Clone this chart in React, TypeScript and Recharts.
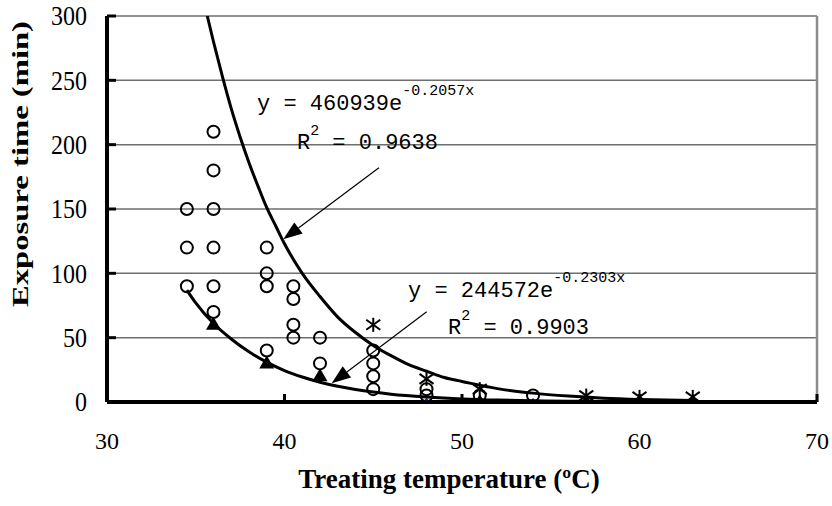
import React from 'react';
import { ScatterChart, Scatter, XAxis, YAxis, CartesianGrid, ReferenceLine, ReferenceDot } from 'recharts';

const xTicks = [30, 40, 50, 60, 70];
const yTicks = [0, 50, 100, 150, 200, 250, 300];

const openCircles = [
  { x: 34.5, y: 150 }, { x: 34.5, y: 120 }, { x: 34.5, y: 90 },
  { x: 36, y: 210 }, { x: 36, y: 180 }, { x: 36, y: 150 }, { x: 36, y: 120 }, { x: 36, y: 90 }, { x: 36, y: 70 },
  { x: 39, y: 120 }, { x: 39, y: 100 }, { x: 39, y: 90 }, { x: 39, y: 40 },
  { x: 40.5, y: 90 }, { x: 40.5, y: 80 }, { x: 40.5, y: 60 }, { x: 40.5, y: 50 },
  { x: 42, y: 50 }, { x: 42, y: 30 },
  { x: 45, y: 40 }, { x: 45, y: 30 }, { x: 45, y: 20 }, { x: 45, y: 10 },
  { x: 48, y: 10 }, { x: 48, y: 5 },
  { x: 51, y: 5 }, { x: 54, y: 5 },
];

const triangles = [
  { x: 36, y: 60 }, { x: 39, y: 30 }, { x: 42, y: 20 },
  { x: 51, y: 0 }, { x: 57, y: 0 }, { x: 60, y: 0 }, { x: 63, y: 0 },
];

const stars = [
  { x: 45, y: 60 }, { x: 48, y: 18 }, { x: 51, y: 10 },
  { x: 57, y: 5 }, { x: 60, y: 4 }, { x: 63, y: 4 },
];

const blueMarks = [{ x: 48, y: 0 }, { x: 54, y: 0 }];

const upperTrend = [
  { x: 35.65, y: 300 }, { x: 36, y: 280 }, { x: 36.5, y: 253 }, { x: 37, y: 228 },
  { x: 37.5, y: 206 }, { x: 38, y: 186 }, { x: 38.5, y: 168 }, { x: 39, y: 151 },
  { x: 39.5, y: 137 }, { x: 40, y: 123 }, { x: 41, y: 100 }, { x: 42, y: 82 },
  { x: 43, y: 66 }, { x: 44, y: 54 }, { x: 45, y: 44 }, { x: 46, y: 36 },
  { x: 47, y: 29 }, { x: 48, y: 24 }, { x: 49, y: 19 }, { x: 50, y: 16 },
  { x: 52, y: 10.4 }, { x: 54, y: 6.9 }, { x: 56, y: 4.6 }, { x: 58, y: 3 },
  { x: 60, y: 2 }, { x: 63, y: 1.1 },
];

const lowerTrend = [
  { x: 34.5, y: 87 }, { x: 35, y: 77 }, { x: 36, y: 61 }, { x: 37, y: 49 },
  { x: 38, y: 39 }, { x: 39, y: 31 }, { x: 40, y: 24.4 }, { x: 41, y: 19.4 },
  { x: 42, y: 15.4 }, { x: 43, y: 12.2 }, { x: 44, y: 9.7 }, { x: 45, y: 7.7 },
  { x: 46, y: 6.1 }, { x: 48, y: 3.9 }, { x: 50, y: 2.4 }, { x: 52, y: 1.5 },
  { x: 54, y: 1 }, { x: 56, y: 0.6 }, { x: 58, y: 0.4 }, { x: 60, y: 0.25 },
  { x: 63, y: 0.12 },
];

const eqUpper = { x: 38.45, y: 227, base: 'y = 460939e', exp: '-0.2057x' };
const r2Upper = { x: 40.7, y: 196.6, value: ' = 0.9638' };
const eqLower = { x: 46.96, y: 81.6, base: 'y = 244572e', exp: '-0.2303x' };
const r2Lower = { x: 49.21, y: 52.8, value: ' = 0.9903' };

const arrowUpper = [{ x: 45.32, y: 182 }, { x: 39.93, y: 126.4 }];
const arrowLower = [{ x: 48.01, y: 70.2 }, { x: 42.66, y: 14.5 }];

const SERIF = '"Liberation Serif", "Times New Roman", serif';
const MONO = '"Liberation Mono", "Courier New", monospace';

const XTick = (p: any) => {
  const { x, y, payload } = p;
  return (
    <g>
      <line x1={x} x2={x} y1={y} y2={y - 8} stroke="#000" strokeWidth={3} />
      <text x={x} y={y + 47} textAnchor="middle" fontFamily={SERIF} fontSize={24} fill="#000">
        {payload.value}
      </text>
    </g>
  );
};

const YTick = (p: any) => {
  const { x, y, payload } = p;
  return (
    <g>
      <line x1={x} x2={x + 9} y1={y} y2={y} stroke="#000" strokeWidth={3} />
      <text
        x={x - 20}
        y={y + 8}
        transform={`translate(0 ${y}) scale(1 1.17) translate(0 ${-y})`}
        textAnchor="end"
        fontFamily={SERIF}
        fontSize={24}
        fill="#000"
      >
        {payload.value}
      </text>
    </g>
  );
};

const XLabel = (p: any) => {
  const vb = p.viewBox;
  return (
    <text x={vb.x + 342} y={vb.y + 86} textAnchor="middle" fontFamily={SERIF} fontWeight="bold" fontSize={27} fill="#000">
      Treating temperature (ºC)
    </text>
  );
};

const YLabel = (p: any) => {
  const vb = p.viewBox;
  const x = vb.x + 28;
  const y = vb.y + 291;
  return (
    <text
      x={x}
      y={y}
      transform={`rotate(-90 ${x} ${y})`}
      textAnchor="start"
      fontFamily={SERIF}
      fontWeight="bold"
      fontSize={23}
      textLength={286}
      lengthAdjust="spacingAndGlyphs"
      fill="#000"
    >
      Exposure time (min)
    </text>
  );
};

const CircleShape = (p: any) => (
  <circle cx={p.cx} cy={p.cy} r={6} fill="none" stroke="#000" strokeWidth={2} />
);

const TriangleShape = (p: any) => {
  const { cx, cy } = p;
  return <polygon points={`${cx},${cy - 8} ${cx - 7.5},${cy + 5} ${cx + 7.5},${cy + 5}`} fill="#000" />;
};

const StarShape = (p: any) => {
  const { cx, cy } = p;
  return (
    <g stroke="#000" strokeWidth={2}>
      <line x1={cx} y1={cy - 7} x2={cx} y2={cy + 7} />
      <line x1={cx - 7} y1={cy - 5} x2={cx + 7} y2={cy + 5} />
      <line x1={cx - 7} y1={cy + 5} x2={cx + 7} y2={cy - 5} />
    </g>
  );
};

const BlueShape = (p: any) => (
  <polygon points={`${p.cx},${p.cy - 4} ${p.cx + 4},${p.cy} ${p.cx},${p.cy + 4} ${p.cx - 4},${p.cy}`} fill="#1a1aa8" />
);

const NoShape = () => <g />;

const Arrow = (p: any) => {
  const { x1, y1, x2, y2 } = p;
  const dx = x2 - x1;
  const dy = y2 - y1;
  const L = Math.hypot(dx, dy) || 1;
  const ux = dx / L;
  const uy = dy / L;
  const hl = 19;
  const hw = 7;
  const bx = x2 - ux * hl;
  const by = y2 - uy * hl;
  return (
    <g>
      <line x1={x1} y1={y1} x2={bx} y2={by} stroke="#000" strokeWidth={1.2} />
      <polygon points={`${x2},${y2} ${bx - uy * hw},${by + ux * hw} ${bx + uy * hw},${by - ux * hw}`} fill="#000" />
    </g>
  );
};

const EqText = (base: string, exp: string) => (p: any) => (
  <text x={p.cx} y={p.cy} fontFamily={MONO} fontSize={22} fill="#000">
    <tspan>{base}</tspan>
    <tspan dy={-15} fontSize={15}>{exp}</tspan>
  </text>
);

const R2Text = (value: string) => (p: any) => (
  <text x={p.cx} y={p.cy} fontFamily={MONO} fontSize={22} fill="#000">
    <tspan>R</tspan>
    <tspan dy={-14} fontSize={15}>2</tspan>
    <tspan dy={14}>{value}</tspan>
  </text>
);

export default function App() {
  return (
    <div style={{ position: 'absolute', left: 0, top: 0, background: '#fff' }}>
      <ScatterChart width={832} height={506} margin={{ top: 16, right: 15, left: 0, bottom: 0 }}>
        <CartesianGrid vertical={false} stroke="#6e6e6e" strokeWidth={1.5} />
        <XAxis
          type="number"
          dataKey="x"
          domain={[30, 70]}
          ticks={xTicks}
          height={104}
          tickSize={0}
          tickMargin={0}
          tick={XTick}
          axisLine={{ stroke: '#000', strokeWidth: 4 }}
          tickLine={false}
          label={{ content: XLabel }}
          allowDataOverflow
        />
        <YAxis
          type="number"
          dataKey="y"
          domain={[0, 300]}
          ticks={yTicks}
          width={107}
          tickSize={0}
          tickMargin={0}
          tick={YTick}
          axisLine={{ stroke: '#000', strokeWidth: 4 }}
          tickLine={false}
          label={{ content: YLabel }}
          allowDataOverflow
        />
        <ReferenceLine x={70} stroke="#8c8c8c" strokeWidth={2.5} />
        <Scatter data={blueMarks} shape={BlueShape} isAnimationActive={false} />
        <Scatter data={openCircles} shape={CircleShape} isAnimationActive={false} />
        <Scatter data={triangles} shape={TriangleShape} isAnimationActive={false} />
        <Scatter data={stars} shape={StarShape} isAnimationActive={false} />
        <Scatter
          data={upperTrend}
          shape={NoShape}
          line={{ stroke: '#000', strokeWidth: 3 }}
          lineJointType="monotoneX"
          isAnimationActive={false}
        />
        <Scatter
          data={lowerTrend}
          shape={NoShape}
          line={{ stroke: '#000', strokeWidth: 3 }}
          lineJointType="monotoneX"
          isAnimationActive={false}
        />
        <ReferenceLine segment={arrowUpper} shape={Arrow} />
        <ReferenceLine segment={arrowLower} shape={Arrow} />
        <ReferenceDot x={eqUpper.x} y={eqUpper.y} r={0} shape={EqText(eqUpper.base, eqUpper.exp)} />
        <ReferenceDot x={r2Upper.x} y={r2Upper.y} r={0} shape={R2Text(r2Upper.value)} />
        <ReferenceDot x={eqLower.x} y={eqLower.y} r={0} shape={EqText(eqLower.base, eqLower.exp)} />
        <ReferenceDot x={r2Lower.x} y={r2Lower.y} r={0} shape={R2Text(r2Lower.value)} />
      </ScatterChart>
    </div>
  );
}
